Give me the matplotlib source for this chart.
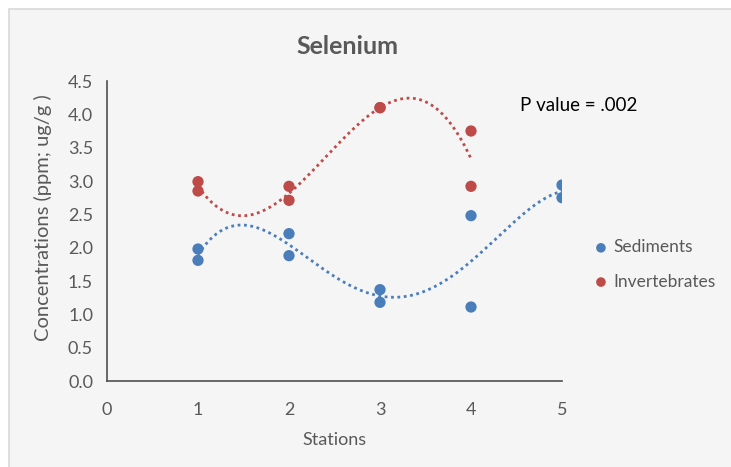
import numpy as np
import matplotlib
matplotlib.use("Agg")
import matplotlib.pyplot as plt
from matplotlib.patches import Rectangle

plt.rcParams['font.family'] = ['Lato', 'DejaVu Sans']

# Selenium concentrations by station (ppm; ug/g)
sed_station = [1, 1, 2, 2, 3, 3, 4, 4, 5, 5]
sed_values = [1.98, 1.81, 2.21, 1.88, 1.37, 1.18, 2.48, 1.11, 2.94, 2.75]

inv_station = [1, 1, 2, 2, 3, 3, 4, 4]
inv_values = [2.99, 2.85, 2.92, 2.71, 4.10, 4.10, 3.75, 2.92]

x_ticks = [0, 1, 2, 3, 4, 5]
y_ticks = [0.0, 0.5, 1.0, 1.5, 2.0, 2.5, 3.0, 3.5, 4.0, 4.5]
p_text = "P value = .002"

BLUE = "#4A7EBB"
RED = "#BE4B48"
TEXT = "#595959"
BG = "#F5F5F5"

W, H = 731, 467
fig = plt.figure(figsize=(W / 100, H / 100), dpi=100)
fig.patch.set_facecolor("white")
# chart area panel with thin grey border
fig.patches.append(Rectangle((9 / W, -0.05), 1.0, 1.05 - 9 / H,
                             transform=fig.transFigure, facecolor=BG,
                             edgecolor="#D9D9D9", linewidth=1.2, zorder=-10))

ax = fig.add_axes([107 / W, (H - 381) / H, 455 / W, 300 / H])
ax.set_facecolor("none")


def trend(xs, ys, max_deg=4):
    # polynomial trendline, order limited by the number of distinct stations
    deg = min(max_deg, len(set(xs)) - 1)
    coef = np.polyfit(xs, ys, deg)
    xx = np.linspace(min(xs), max(xs), 200)
    return xx, np.polyval(coef, xx)


ax.scatter(sed_station, sed_values, s=66, color=BLUE, zorder=3,
           label="Sediments", edgecolors="none")
ax.scatter(inv_station, inv_values, s=66, color=RED, zorder=3,
           label="Invertebrates", edgecolors="none")

tx, ty = trend(sed_station, sed_values)
ax.plot(tx, ty, color=BLUE, linestyle=(0, (1, 1.3)), linewidth=2.0, zorder=2)
tx, ty = trend(inv_station, inv_values)
ax.plot(tx, ty, color=RED, linestyle=(0, (1, 1.3)), linewidth=2.0, zorder=2)

ax.set_xlim(0, 5)
ax.set_ylim(0, 4.5)
ax.set_xticks(x_ticks)
ax.set_yticks(y_ticks)
ax.set_yticklabels([f"{v:.1f}" for v in y_ticks])
ax.tick_params(length=0, colors=TEXT, labelsize=13, pad=10)
ax.tick_params(axis="x", pad=15)
for side in ("top", "right"):
    ax.spines[side].set_visible(False)
for side in ("left", "bottom"):
    ax.spines[side].set_color("#505050")
    ax.spines[side].set_linewidth(1.2)

ax.set_xlabel("Stations", fontsize=13, color=TEXT, labelpad=10)
ax.set_ylabel("Concentrations (ppm; ug/g )", fontsize=14.5, color=TEXT)
ax.yaxis.set_label_coords((52 - 107) / 455, (381 - 218) / 300)
fig.text(347 / W, 1 - 47 / H, "Selenium", ha="center", va="center",
         fontsize=18, fontweight="bold", color=TEXT)
fig.text(520 / W, 1 - 106 / H, p_text, ha="left", va="center",
         fontsize=13.5, color="black")

ax.legend(loc="center left", bbox_to_anchor=(594 / W, 1 - 264.5 / H),
          bbox_transform=fig.transFigure, frameon=False, fontsize=12.5,
          labelcolor=TEXT, handletextpad=0.3, markerscale=0.85,
          labelspacing=1.05, handlelength=0.8, borderpad=0,
          borderaxespad=0)

fig.savefig("out.png", dpi=100, facecolor=fig.get_facecolor())
